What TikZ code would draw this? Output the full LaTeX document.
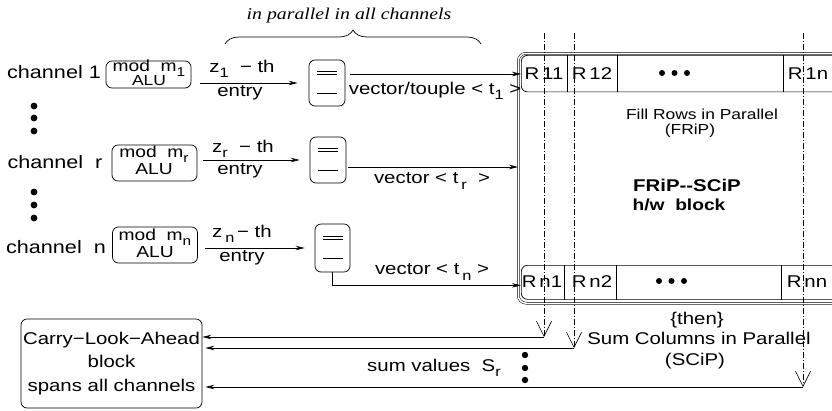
\documentclass[tikz,border=0pt]{standalone}
\usepackage{fontspec}
\setmainfont{Liberation Sans}[FakeStretch=1.2]
\newfontface\ttlfont{Liberation Serif Italic}[FakeStretch=1.2]
\usetikzlibrary{arrows.meta,decorations.pathreplacing}
\newcommand\myfs[1]{\fontsize{#1}{#1}\selectfont}
\newcommand\mysub[1]{\raisebox{-0.3em}{\scalebox{0.8}{#1}}}
\newcommand\buflines[1]{%
  \draw[line width=0.6pt] ([shift={(-10pt,11.5pt)}]#1.center) -- ++(20pt,0pt);
  \draw[line width=0.6pt] ([shift={(-10pt,8.5pt)}]#1.center) -- ++(20pt,0pt);
  \draw[line width=0.6pt] ([shift={(-10pt,-10pt)}]#1.center) -- ++(20pt,0pt);}
\begin{document}
\begin{tikzpicture}[x=1pt,y=-1pt,line width=0.7pt,
  arr/.style={-{Stealth[length=9pt,width=4.5pt]}},
  vtip/.style={-{Straight Barb[length=15pt,width=15pt,line width=0.6pt]}},
  ddline/.style={line width=0.6pt,dash pattern=on 6pt off 2pt on 1pt off 2pt},
  txt/.style={inner sep=0pt,font=\myfs{17}},
  rbox/.style={draw,rounded corners=6pt,inner sep=0pt},
  bufbox/.style={draw,rounded corners=6pt,inner sep=0pt,minimum width=36pt,minimum height=46pt}]
\useasboundingbox (0,0) rectangle (832,410);
\clip (0,0) rectangle (832,410);

% title and brace
\node[inner sep=0pt,font=\ttlfont\myfs{16.5}] (title) at (349,16) {in parallel in all channels};
\coordinate (br1) at (225,44);
\coordinate (br2) at (481,44);
\draw[decorate,decoration={brace,amplitude=14pt}] (br1) -- (br2);

% channel labels
\node[txt,font=\myfs{18}] (ch1) at (54,72) {channel 1};
\node[txt,font=\myfs{18}] (chr) at (55,162) {channel\ \ r};
\node[txt,font=\myfs{18}] (chn) at (56,247) {channel\ \ n};

% vertical dots
\foreach \yy in {106,118,131,192,205,218} \fill (34,\yy) circle (3.4pt);

% ALU boxes
\node[rbox,minimum width=85pt,minimum height=27pt] (alu1) at (148.5,74.5) {};
\node[txt,font=\myfs{16}] (alu1t) at (149,68) {mod\ \ m\mysub{1}};
\node[txt,font=\myfs{14.5}] (alu1b) at (149,80.5) {ALU};
\node[rbox,minimum width=85pt,minimum height=36pt] (alur) at (154.5,163) {};
\node[txt,font=\myfs{16}] (alurt) at (154,154) {mod\ \ m\mysub{r}};
\node[txt,font=\myfs{16}] (alurb) at (154,169) {ALU};
\node[rbox,minimum width=85pt,minimum height=36pt] (alun) at (155,245) {};
\node[txt,font=\myfs{16}] (alunt) at (155,237) {mod\ \ m\mysub{n}};
\node[txt,font=\myfs{16}] (alunb) at (155,252) {ALU};

% buffers
\node[bufbox] (buf1) at (327,83) {};
\buflines{buf1}
\node[bufbox] (bufr) at (328,160) {};
\buflines{bufr}
\node[bufbox,minimum width=35pt,minimum height=48pt] (bufn) at (332.5,248) {};
\buflines{bufn}

% ALU -> buffer arrows with labels
\draw[arr,shorten <=9pt,shorten >=11pt] (alu1.east |- buf1.west) -- (buf1.west);
\node[txt] (z1) at (242,69) {z\mysub{1}\ \ −\ th};
\node[txt] (e1) at (240,93) {entry};
\draw[arr,shorten <=6pt,shorten >=10pt] (alur.east |- bufr.west) -- (bufr.west);
\node[txt] (zr) at (243,148.5) {z\mysub{r}\ \ −\ th};
\node[txt] (er) at (240,171) {entry};
\draw[arr,shorten <=7.5pt,shorten >=10pt] (alun.east |- bufn.west) -- (bufn.west);
\node[txt] (zn) at (242,233.5) {z\,\mysub{n}\,−\ th};
\node[txt] (en) at (242,257.5) {entry};

% FRiP-SCiP block
\node[draw,double,double distance=1.5pt,line width=0.5pt,rounded corners=8pt,
      minimum width=334pt,minimum height=250pt,anchor=north west,inner sep=0pt] (frame) at (518,53) {};
\node[rbox,minimum width=330pt,minimum height=36.5pt,anchor=north west] (row1) at (521,55) {};
\foreach \dx in {46,96,262} \draw ([xshift=\dx pt]row1.north west) -- ([xshift=\dx pt]row1.south west);
\node[rbox,minimum width=330pt,minimum height=34pt,anchor=north west] (rown) at (521,265) {};
\foreach \dx in {43,95,260} \draw ([xshift=\dx pt]rown.north west) -- ([xshift=\dx pt]rown.south west);

\node[txt,font=\myfs{17}] (r11) at (544,74) {R\,11};
\node[txt,font=\myfs{17}] (r12) at (592,74) {R\,12};
\node[txt,font=\myfs{17}] (r1n) at (808,74) {R\,1n};
\foreach \xx in {662,674.5,687} \fill (\xx,73) circle (3pt);
\node[txt,font=\myfs{17}] (rn1) at (542,282) {R\,n1};
\node[txt,font=\myfs{17}] (rn2) at (592,282) {R\,n2};
\node[txt,font=\myfs{17}] (rnn) at (807,282) {R\,nn};
\foreach \xx in {659,671.5,684} \fill (\xx,281) circle (3pt);

\node[txt,font=\myfs{14.5}] (fill) at (702,114) {Fill Rows in Parallel};
\node[txt,font=\myfs{14.5}] (fripl) at (690,131) {(FRiP)};
\node[txt,font=\myfs{17}\bfseries] (fs) at (687,185) {FRiP{-}{-}SCiP};
\node[txt,font=\myfs{16}\bfseries] (hw) at (679,205) {h/w\ \ block};

% vectors into the block
\coordinate (v1s) at (350,74);
\draw[arr] (v1s) -- (v1s -| row1.west);
\node[txt] (vec1) at (435,91) {vector/touple < t\mysub{1}\ >};
\coordinate (vrs) at (348,167);
\draw[arr] (vrs) -- (vrs -| frame.west);
\node[txt] (vecr) at (432,181) {vector < t\,\mysub{r}\ \ >};
\draw[arr] (bufn.south) |- ([yshift=-3pt]rown.west);
\node[txt] (vecn) at (432,272) {vector < t\,\mysub{n} >};

% sum columns
\node[txt] (then) at (697,320) {\{then\}};
\node[txt] (sumc) at (699,338) {Sum Columns in Parallel};
\node[txt] (scip) at (695,361) {(SCiP)};

% CLA block
\node[rbox,minimum width=181pt,minimum height=89pt,align=center,font=\fontsize{17}{23.5}\selectfont] (cla) at (111.5,363.5)
  {Carry−Look−Ahead\\block\\spans all channels};

\coordinate (dt1) at (544,33);
\coordinate (db1) at (544,337);
\coordinate (dt2) at (574,33);
\coordinate (db2) at (574,348);
\coordinate (dt3) at (803,33);
\coordinate (db3) at (803,387);
\draw[ddline,vtip] (dt1) -- (db1);
\draw[ddline,vtip] (dt2) -- (db2);
\draw[ddline,vtip] (dt3) -- (db3);
\draw[arr] (db1) -- (db1 -| cla.east);
\draw[arr,shorten >=3pt] (db2) -- (db2 -| cla.east);
\draw[arr,shorten >=3pt] (db3) -- (db3 -| cla.east);

\node[txt] (sumv) at (434,368) {sum values\ \ S\mysub{r}};
\foreach \yy in {355,368,380} \fill (525,\yy) circle (3.2pt);
\end{tikzpicture}
\end{document}
